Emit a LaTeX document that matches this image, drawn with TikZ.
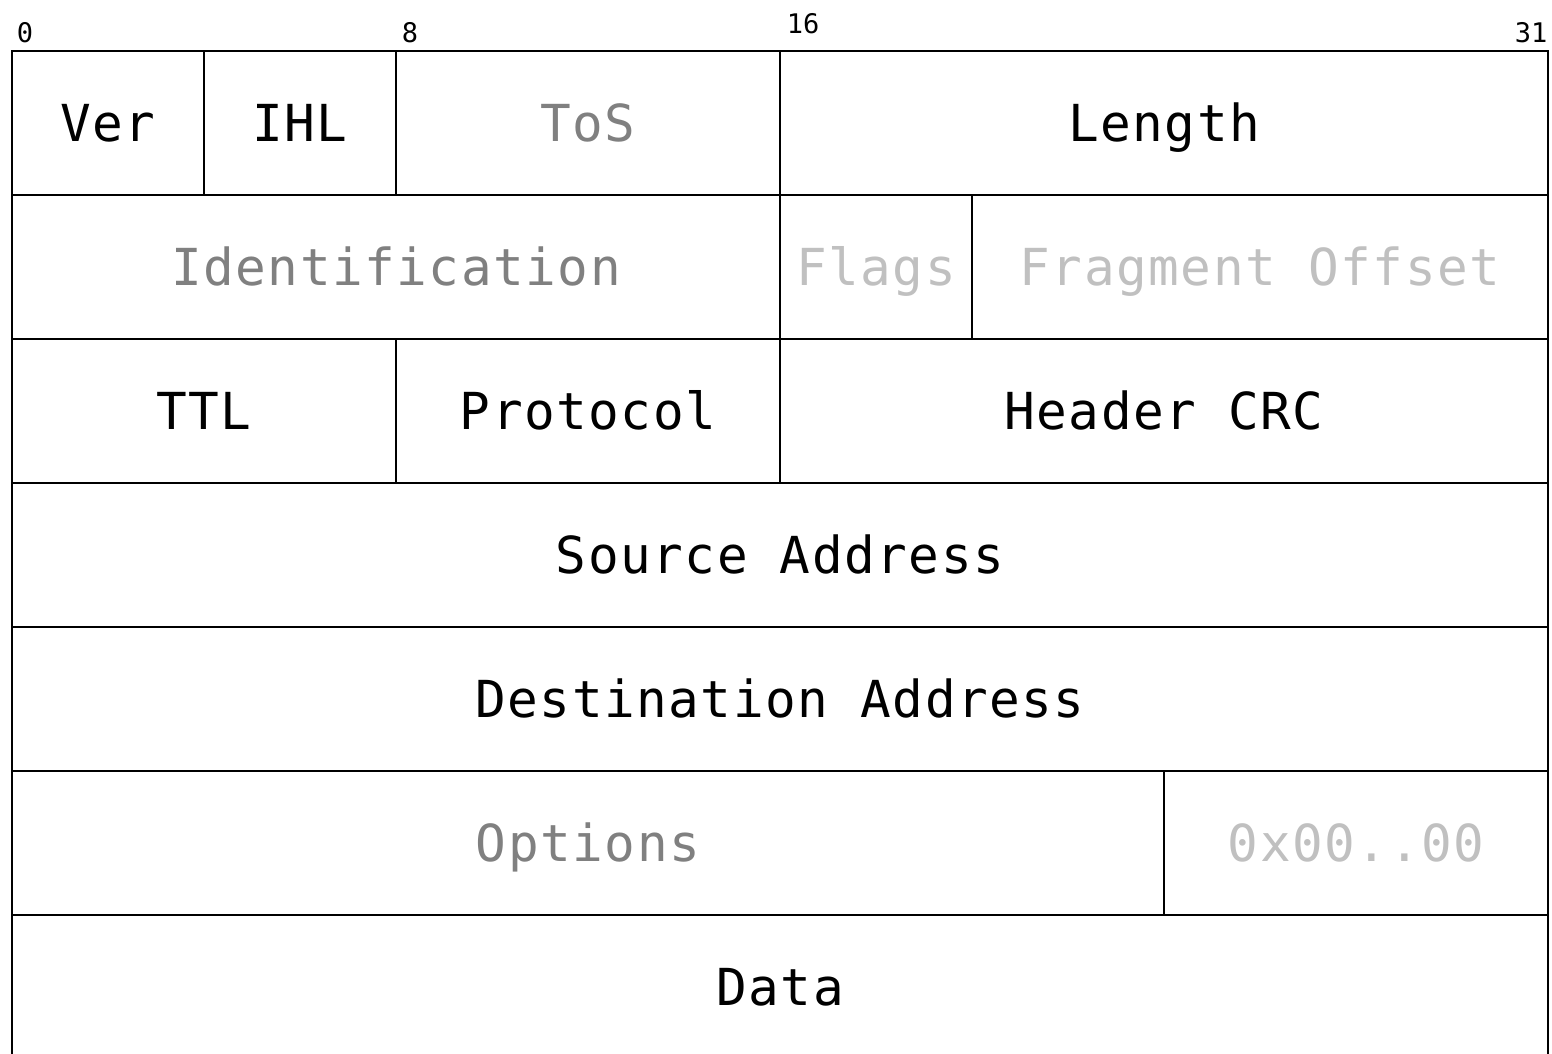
\documentclass[tikz,border=0pt]{standalone}
\usepackage{fontspec}
\setmonofont{DejaVu Sans Mono}
\newfontfamily\fieldfont[LetterSpace=3]{DejaVu Sans Mono}
\definecolor{midgray}{HTML}{808080}
\definecolor{lightgray}{HTML}{C0C0C0}
\begin{document}
\begin{tikzpicture}[x=1pt,y=-1pt,
  field/.style={draw, line width=2pt, inner sep=0pt, minimum height=144pt,
    text height=37pt, text depth=0pt, font=\fieldfont\fontsize{51}{51}\selectfont},
  faint/.style={text=midgray},
  fainter/.style={text=lightgray},
  bitlabel/.style={anchor=base, inner sep=0pt, font=\ttfamily\fontsize{27}{27}\selectfont}]
\clip (0,0) rectangle (1552,1053);
% bit labels
\node[bitlabel] (b0) at (25,42) {0};
\node[bitlabel] (b8) at (410,42) {8};
\node[bitlabel] (b16) at (803,33) {16};
\node[bitlabel] (b31) at (1531,42) {31};
% row 1
\node[field, minimum width=192pt] (ver) at (108,123) {Ver};
\node[field, minimum width=192pt] (ihl) at (300,123) {IHL};
\node[field, faint, minimum width=384pt] (tos) at (588,123) {ToS};
\node[field, minimum width=768pt] (len) at (1164,123) {Length};
% row 2
\node[field, faint, minimum width=768pt] (ident) at (396,267) {Identification};
\node[field, fainter, minimum width=192pt] (flags) at (876,267) {Flags};
\node[field, fainter, minimum width=576pt] (frag) at (1260,267) {Fragment Offset};
% row 3
\node[field, minimum width=384pt] (ttl) at (204,411) {TTL};
\node[field, minimum width=384pt] (proto) at (588,411) {Protocol};
\node[field, minimum width=768pt] (crc) at (1164,411) {Header CRC};
% row 4, 5
\node[field, minimum width=1536pt] (src) at (780,555) {Source Address};
\node[field, minimum width=1536pt] (dst) at (780,699) {Destination Address};
% row 6
\node[field, faint, minimum width=1152pt] (opts) at (588,843) {Options};
\node[field, fainter, minimum width=384pt] (pad) at (1356,843) {0x00..00};
% row 7
\node[field, minimum width=1536pt] (data) at (780,987) {Data};
\end{tikzpicture}
\end{document}
